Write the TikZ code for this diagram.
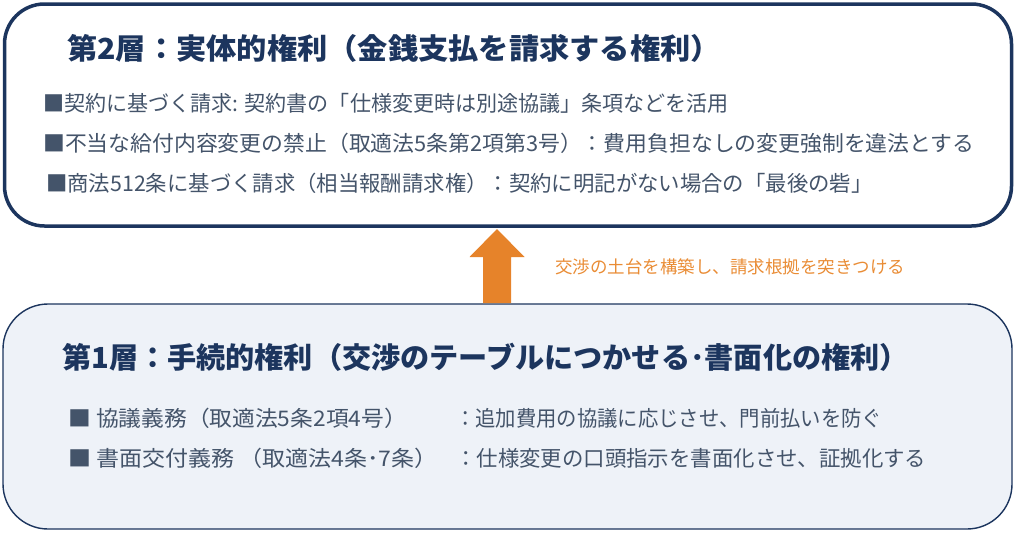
\documentclass[tikz,border=0pt]{standalone}
\usepackage{graphicx}
\usepackage{fontspec}
\setmainfont{Noto Sans CJK JP}
\usetikzlibrary{calc}
\definecolor{navy}{HTML}{1C355E}
\definecolor{bodytxt}{HTML}{44546A}
\definecolor{arroworange}{HTML}{E6832A}
\definecolor{labelorange}{HTML}{E98C35}
\definecolor{lightfill}{HTML}{EEF2F8}
\newcommand{\hsc}[2]{\scalebox{#1}[1]{#2}}
\tikzset{
  topbox/.style={draw=navy, line width=3.5pt, fill=white, rounded corners=40pt, inner sep=0pt},
  botbox/.style={draw=navy, line width=1.4pt, fill=lightfill, rounded corners=45pt, inner sep=0pt},
  titletxt/.style={anchor=west, inner sep=0pt, text=navy, font=\fontsize{29}{34}\selectfont\bfseries},
  rowtxt/.style={anchor=west, inner sep=0pt, text=bodytxt, font=\fontsize{21.5}{26}\selectfont},
  labeltxt/.style={anchor=west, inner sep=0pt, text=labelorange, font=\fontsize{17.5}{21}\selectfont},
}
\begin{document}
\begin{tikzpicture}[x=1pt,y=-1pt]
\useasboundingbox (0,0) rectangle (1024,533);
% boxes
\draw[topbox] (4.5,4) rectangle (1011.5,226);
\draw[botbox] (3,304) rectangle (1012,529);
% arrow (from lower box up to upper box)
\coordinate (ab) at (497,303);
\coordinate (at) at (497,229);
\fill[arroworange] ($(ab)+(-14,0)$) -- ($(ab)+(14,0)$) -- ($(at)+(14,28)$) -- ($(at)+(27.5,28)$) -- (at) -- ($(at)+(-27.5,28)$) -- ($(at)+(-14,28)$) -- cycle;
\node[labeltxt] (lbl) at (555,267) {交渉の土台を構築し、請求根拠を突きつける};
% top box text
\node[titletxt] (t2) at (67,48) {\hsc{1.043}{第2層：実体的権利（金銭支払を請求する権利）}};
\node[rowtxt] (r21) at (43,103) {\hsc{0.979}{■契約に基づく請求: 契約書の「仕様変更時は別途協議」条項などを活用}};
\node[rowtxt] (r22) at (43,143) {\hsc{1.016}{■不当な給付内容変更の禁止（取適法5条第2項第3号）：費用負担なしの変更強制を違法とする}};
\node[rowtxt] (r23) at (46,183) {\hsc{0.994}{■商法512条に基づく請求（相当報酬請求権）：契約に明記がない場合の「最後の砦」}};
% bottom box text
\node[titletxt] (t1) at (62,357) {\hsc{1.005}{第1層：手続的権利（交渉のテーブルにつかせる･書面化の権利）}};
\node[rowtxt] (r11) at (68,418) {\hsc{1.058}{■ 協議義務（取適法5条2項4号）}};
\node[rowtxt] (r12) at (68,458) {\hsc{1.07}{■ 書面交付義務 （取適法4条･7条）}};
\node[rowtxt] (r11b) at (455,418) {\hsc{0.946}{：追加費用の協議に応じさせ、門前払いを防ぐ}};
\node[rowtxt] (r12b) at (455,458) {\hsc{0.996}{：仕様変更の口頭指示を書面化させ、証拠化する}};
\end{tikzpicture}
\end{document}
